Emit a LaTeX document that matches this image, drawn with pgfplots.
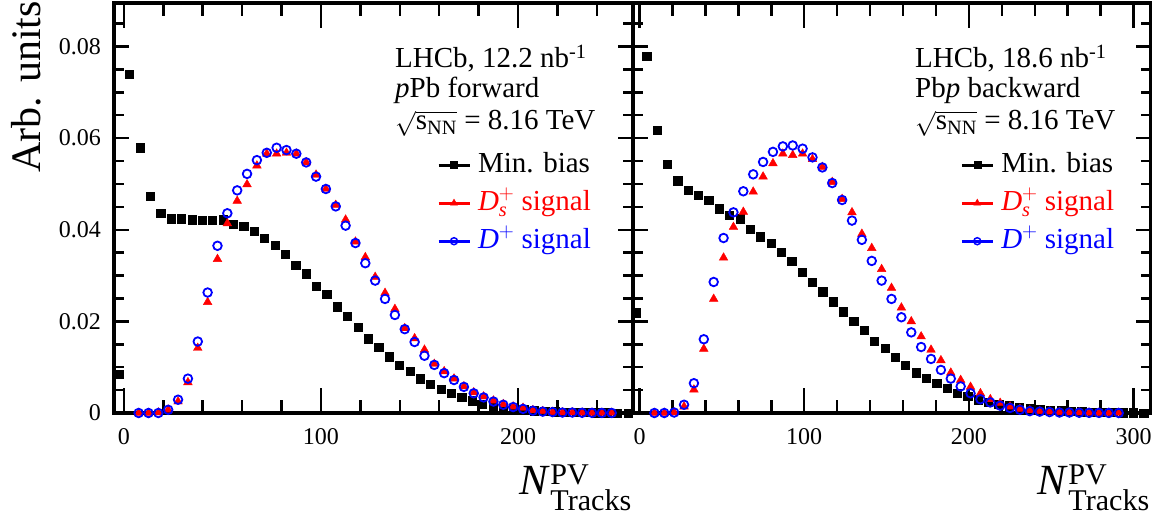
\documentclass[border=0pt]{standalone}
\usepackage{amsmath}
\usepackage{fontspec}
\setmainfont{Liberation Serif}
\usepackage{pgfplots}
\usepackage{pgfplotstable}
\pgfplotsset{compat=1.18}

% ---------- left panel (pPb forward) ----------
\pgfplotstableread{
x y
-2.37 0.0085
2.90 0.0739
8.16 0.0579
13.43 0.0474
18.69 0.0437
23.96 0.0424
29.23 0.0424
34.49 0.0422
39.76 0.0420
45.02 0.0420
50.29 0.0422
55.56 0.0413
60.82 0.0407
66.09 0.0396
71.35 0.0381
76.62 0.0367
81.89 0.0347
87.15 0.0323
92.42 0.0304
97.68 0.0276
102.95 0.0259
108.22 0.0232
113.48 0.0211
118.75 0.0187
124.01 0.0162
129.28 0.0143
134.55 0.0123
139.81 0.0104
145.08 0.0091
150.34 0.0075
155.61 0.0062
160.88 0.0052
166.14 0.0043
171.41 0.0035
176.67 0.0027
181.94 0.0020
187.21 0.0016
192.47 0.0011
197.74 0.0009
203.00 0.0007
208.27 0.0005
213.54 0.0004
218.80 0.0003
224.07 0.0002
229.33 0.00015
234.60 0.0001
239.87 0.00008
245.13 0.00005
250.40 0.00003
255.66 0.00002
}\LminBias

\pgfplotstableread{
x y
7.5 0
12.5 0
17.5 0.0001
22.5 0.0007
27.5 0.0025
32.5 0.0067
37.5 0.0142
42.5 0.0242
47.5 0.0336
52.5 0.0414
57.5 0.0463
62.5 0.0499
67.5 0.0540
72.5 0.0566
77.5 0.0566
82.5 0.0568
87.5 0.0566
92.5 0.0547
97.5 0.0520
102.5 0.0489
107.5 0.0454
112.5 0.0422
117.5 0.0374
122.5 0.0340
127.5 0.0297
132.5 0.0262
137.5 0.0227
142.5 0.0185
147.5 0.0163
152.5 0.0138
157.5 0.0107
162.5 0.0091
167.5 0.0075
172.5 0.0058
177.5 0.0045
182.5 0.0036
187.5 0.0027
192.5 0.0019
197.5 0.0014
202.5 0.0011
207.5 0.0006
212.5 0.0004
217.5 0.0002
222.5 0.0001
227.5 0.0001
232.5 0.00005
237.5 0.00003
242.5 0.00002
247.5 0.00001
}\LDs

\pgfplotstableread{
x y
7.5 0
12.5 0
17.5 0.0000
22.5 0.0007
27.5 0.0029
32.5 0.0075
37.5 0.0156
42.5 0.0263
47.5 0.0365
52.5 0.0436
57.5 0.0486
62.5 0.0522
67.5 0.0552
72.5 0.0568
77.5 0.0579
82.5 0.0574
87.5 0.0566
92.5 0.0547
97.5 0.0516
102.5 0.0489
107.5 0.0451
112.5 0.0409
117.5 0.0371
122.5 0.0327
127.5 0.0289
132.5 0.0249
137.5 0.0214
142.5 0.0183
147.5 0.0155
152.5 0.0125
157.5 0.0105
162.5 0.0087
167.5 0.0072
172.5 0.0057
177.5 0.0043
182.5 0.0034
187.5 0.0025
192.5 0.0018
197.5 0.0013
202.5 0.0009
207.5 0.0005
212.5 0.0003
217.5 0.0002
222.5 0.0001
227.5 0.0001
232.5 0.00005
237.5 0.00003
242.5 0.00002
247.5 0.00001
}\LDp

% ---------- right panel (Pbp backward) ----------
\pgfplotstableread{
x y
-2.00 0.0219
4.29 0.0778
10.58 0.0618
16.87 0.0543
23.16 0.0507
29.45 0.0487
35.74 0.0476
42.03 0.0465
48.32 0.0446
54.61 0.0432
60.90 0.0424
67.19 0.0402
73.48 0.0385
79.77 0.0371
86.06 0.0351
92.35 0.0331
98.64 0.0307
104.93 0.0285
111.22 0.0265
117.51 0.0243
123.80 0.0221
130.09 0.0200
136.38 0.0180
142.67 0.0156
148.96 0.0141
155.25 0.0121
161.54 0.0105
167.83 0.0088
174.12 0.0076
180.41 0.0065
186.70 0.0054
192.99 0.0043
199.28 0.0036
205.57 0.0029
211.86 0.0024
218.15 0.0019
224.44 0.0016
230.73 0.0013
237.02 0.0010
243.31 0.0008
249.60 0.0006
255.89 0.0005
262.18 0.0004
268.47 0.0003
274.76 0.0002
281.05 0.00015
287.34 0.0001
293.63 0.00008
299.92 0.00005
306.21 0.00003
}\RminBias

\pgfplotstableread{
x y
9 0
15 0
21 0.0001
27 0.0014
33 0.0051
39 0.0140
45 0.0249
51 0.0339
57 0.0406
63 0.0439
69 0.0483
75 0.0516
81 0.0545
87 0.0566
93 0.0563
99 0.0566
105 0.0554
111 0.0537
117 0.0504
123 0.0467
129 0.0438
135 0.0391
141 0.0360
147 0.0314
153 0.0273
159 0.0230
165 0.0200
171 0.0167
177 0.0138
183 0.0115
189 0.0088
195 0.0072
201 0.0057
207 0.0043
213 0.0030
219 0.0022
225 0.0014
231 0.0009
237 0.0006
243 0.0004
249 0.0003
255 0.0002
261 0.0001
267 0.0001
273 0.00005
279 0.00003
285 0.00002
291 0.00001
}\RDs

\pgfplotstableread{
x y
9 0
15 0
21 0.0001
27 0.0018
33 0.0065
39 0.0161
45 0.0286
51 0.0382
57 0.0438
63 0.0484
69 0.0521
75 0.0548
81 0.0570
87 0.0582
93 0.0584
99 0.0577
105 0.0558
111 0.0536
117 0.0502
123 0.0465
129 0.0420
135 0.0378
141 0.0332
147 0.0289
153 0.0249
159 0.0209
165 0.0176
171 0.0144
177 0.0118
183 0.0094
189 0.0075
195 0.0058
201 0.0043
207 0.0030
213 0.0023
219 0.0016
225 0.0011
231 0.0007
237 0.0004
243 0.0003
249 0.0002
255 0.0001
261 0.0001
267 0.00005
273 0.00003
279 0.00002
285 0.00001
291 0
}\RDp

\pgfplotsset{
  lhcb/.style={
    scale only axis, height=410pt,
    ymin=0, ymax=0.0895,
    clip=false, axis on top,
    axis line style={line width=3.5pt},
    tick style={line width=2.5pt, black},
    major tick length=15pt, minor tick length=10pt,
    xtick style={/pgfplots/major tick length=25pt, /pgfplots/minor tick length=13pt},
    ytick={0,0.02,0.04,0.06,0.08},
    minor ytick={0.005,0.01,0.015,0.025,0.03,0.035,0.045,0.05,0.055,0.065,0.07,0.075,0.085},
    scaled y ticks=false,
    /pgf/number format/assume math mode=true,
    yticklabel style={/pgf/number format/fixed, /pgf/number format/precision=2,
       inner sep=0pt, xshift=-13pt},
    xticklabel style={inner sep=0pt, yshift=-15pt},
    tick label style={font=\fontsize{24}{24}\selectfont},
    legend image code/.code={\draw[##1, mark repeat=2, mark phase=2] plot coordinates {(0pt,0pt) (15.5pt,0pt) (31pt,0pt)};},
    legend style={draw=none, fill=none, inner sep=0pt, anchor=north west,
       font=\fontsize{29}{29}\selectfont, row sep=10pt,
       nodes={inner sep=0pt, text height=21pt, text depth=7pt},
       /tikz/every odd column/.append style={column sep=7pt}},
    legend cell align=left,
  },
  mb/.style={only marks, mark=square*, mark size=4.1pt, black, forget plot},
  ds/.style={only marks, mark=triangle*, mark size=5pt, red, forget plot},
  dp/.style={only marks, mark=o, mark size=4.3pt, blue, line width=1.8pt, forget plot},
}

\begin{document}
\begin{tikzpicture}[x=1pt,y=1pt]
\path[use as bounding box] (0,0) rectangle (1157,515);

\begin{axis}[lhcb, at={(114pt,102pt)}, anchor=south west, width=519pt,
  xmin=-5, xmax=258.3,
  xtick={0,100,200}, minor xtick={20,40,60,80,120,140,160,180,220,240},
  legend style={at={(axis description cs:0.622,0.639)}}]
\addplot[mb] table {\LminBias};
\addplot[ds] table {\LDs};
\addplot[dp] table {\LDp};
\addlegendimage{black, line width=3pt, mark=square*, mark size=3.5pt, mark options={solid, line width=0.5pt}}
\addlegendentry{Min. bias}
\addlegendimage{red, line width=3pt, mark=triangle*, mark size=4pt, mark options={solid, line width=0.5pt}}
\addlegendentry{\textcolor{red}{$\textit{D}^{+}_{\textit{s}}$ signal}}
\addlegendimage{blue, line width=3pt, mark=o, mark size=3.5pt, mark options={solid, fill=white, line width=1.5pt}}
\addlegendentry{\textcolor{blue}{$\textit{D}^{+}$ signal}}
\end{axis}

\begin{axis}[lhcb, at={(633pt,102pt)}, anchor=south west, width=517.5pt,
  xmin=-4, xmax=310.3,
  xtick={0,100,200,300}, minor xtick={20,40,60,80,120,140,160,180,220,240,260,280},
  yticklabels={},
  legend style={at={(axis description cs:0.632,0.639)}}]
\addplot[mb] table {\RminBias};
\addplot[ds] table {\RDs};
\addplot[dp] table {\RDp};
\addlegendimage{black, line width=3pt, mark=square*, mark size=3.5pt, mark options={solid, line width=0.5pt}}
\addlegendentry{Min. bias}
\addlegendimage{red, line width=3pt, mark=triangle*, mark size=4pt, mark options={solid, line width=0.5pt}}
\addlegendentry{\textcolor{red}{$\textit{D}^{+}_{\textit{s}}$ signal}}
\addlegendimage{blue, line width=3pt, mark=o, mark size=3.5pt, mark options={solid, fill=white, line width=1.5pt}}
\addlegendentry{\textcolor{blue}{$\textit{D}^{+}$ signal}}
\end{axis}

% text blocks
\begin{scope}[every node/.style={inner sep=0pt, font=\fontsize{29}{29}\selectfont}]
\node[anchor=base west] at (395,447) {LHCb, 12.2 nb\textsuperscript{-1}};
\node[anchor=base west] at (395,417) {\textit{p}Pb forward};
\node[anchor=base west] at (395,385) {$\sqrt{\text{s}_{\text{NN}}}$ = 8.16 TeV};
\node[anchor=base west] at (915,447) {LHCb, 18.6 nb\textsuperscript{-1}};
\node[anchor=base west] at (915,417) {Pb\textit{p} backward};
\node[anchor=base west] at (915,385) {$\sqrt{\text{s}_{\text{NN}}}$ = 8.16 TeV};
\end{scope}

% axis titles
\node[rotate=90, anchor=base east, inner sep=0pt, font=\fontsize{42}{42}\selectfont] at (40,514) {Arb. units};
\node[anchor=base east, inner sep=0pt, font=\fontsize{43}{43}\selectfont] at (632,21) {\textit{N}$^{\text{PV}}_{\text{Tracks}}$};
\node[anchor=base east, inner sep=0pt, font=\fontsize{43}{43}\selectfont] at (1150,21) {\textit{N}$^{\text{PV}}_{\text{Tracks}}$};
\end{tikzpicture}
\end{document}
